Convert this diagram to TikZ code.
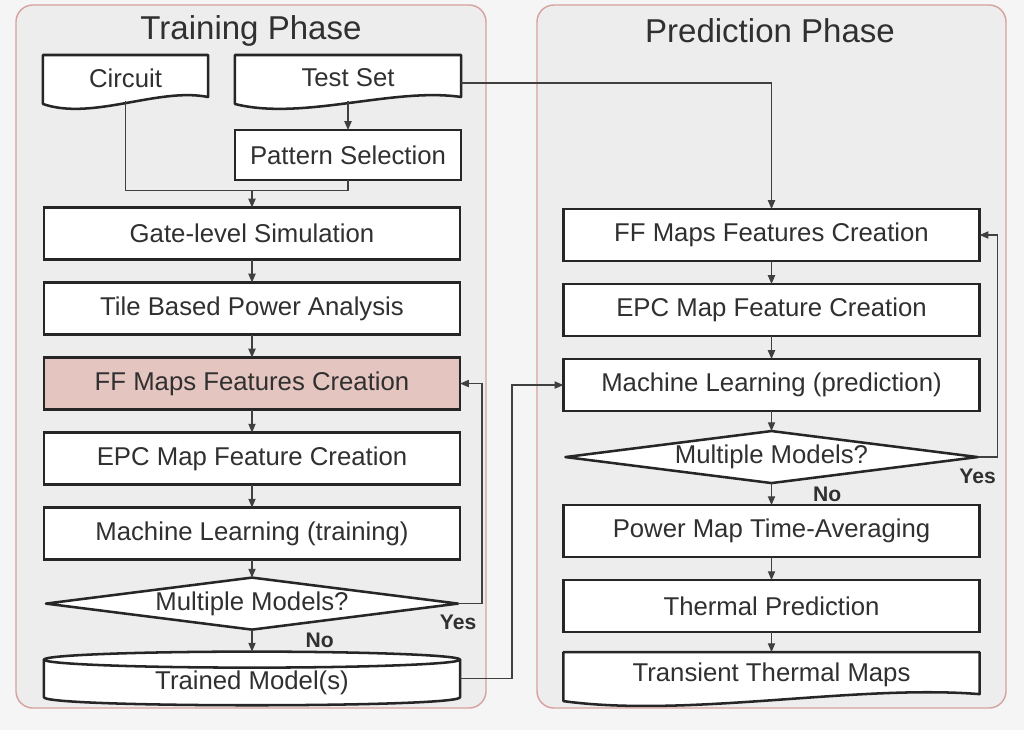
\documentclass[tikz,border=0pt]{standalone}
\usepackage{fontspec}
\setmainfont{Liberation Sans}
\usetikzlibrary{shapes.geometric, arrows.meta, positioning, backgrounds, calc}
\definecolor{ffpink}{RGB}{229,197,191}
\definecolor{panelred}{RGB}{214,162,158}
\definecolor{txtgray}{RGB}{48,48,48}

\begin{document}
\begin{tikzpicture}[x=0.025cm, y=-0.025cm,
    stepbox/.style={rectangle, draw=black!85, line width=1.8pt, fill=white,
        outer sep=0pt, minimum width=10.4cm, minimum height=1.3cm,
        text=txtgray, font=\fontsize{18.3}{21}\selectfont},
    docbox/.style={rectangle, outer sep=0pt, minimum height=1.15cm,
        text=txtgray, font=\fontsize{18.3}{21}\selectfont},
    decbox/.style={diamond, draw=black!85, line width=1.8pt, fill=white,
        line join=round, aspect=8, inner sep=0pt, outer sep=0pt,
        minimum width=10.3cm, minimum height=1.3cm, text=txtgray,
        font=\fontsize{18.3}{21}\selectfont},
    dbbox/.style={rectangle, outer sep=0pt, minimum width=10.4cm,
        minimum height=1.14cm, text=txtgray,
        font=\fontsize{18.3}{21}\selectfont},
    phase/.style={text=txtgray, font=\fontsize{23.5}{27}\selectfont},
    yesno/.style={text=txtgray, inner sep=1pt,
        font=\bfseries\fontsize{15}{17}\selectfont},
    panel/.style={draw=panelred, line width=1pt, fill=black!7,
        rounded corners=12pt},
    shapeline/.style={draw=black!85, line width=1.8pt, fill=white,
        line join=round},
    line/.style={draw=black!75, line width=0.9pt},
    arrow/.style={line, -{Triangle[length=0.22cm, width=0.18cm]}}
]
\useasboundingbox (0,0) rectangle (1024,730);
% the two phases
\begin{scope}[on background layer]
    \fill[black!4] (0,0) rectangle (1024,730);
    \draw[panel] (16,5) rectangle (486,708);
    \draw[panel] (537,5) rectangle (1006,708);
\end{scope}
\node[phase] (ttrain) at (251,31) {Training Phase};
\node[phase] (tpred)  at (770,31) {Prediction Phase};
% training inputs
\node[docbox, minimum width=4.125cm] (circuit) at (125.5,78) {Circuit};
\node[docbox, minimum width=5.65cm]  (testset) at (348,78) {Test Set};
\node[stepbox, minimum width=5.65cm, minimum height=1.25cm,
      below=0.725cm of testset] (pattern) {Pattern Selection};
% training flow
\node[stepbox] (gate) at (252,233.5) {Gate-level Simulation};
\node[stepbox, below=0.575cm of gate] (tile) {Tile Based Power Analysis};
\node[stepbox, fill=ffpink, below=0.575cm of tile] (fft)
    {FF Maps Features Creation};
\node[stepbox, below=0.575cm of fft]  (epct) {EPC Map Feature Creation};
\node[stepbox, below=0.575cm of epct] (mlt) {Machine Learning (training)};
\node[decbox, below=0.45cm of mlt]    (dect) {Multiple Models?};
\node[dbbox, below=0.75cm of dect]    (model) {Trained Model(s)};
% prediction flow
\node[stepbox] (ffp) at (771.5,235) {FF Maps Features Creation};
\node[stepbox, below=0.575cm of ffp]  (epcp) {EPC Map Feature Creation};
\node[stepbox, below=0.575cm of epcp] (mlp)
    {Machine Learning (prediction)};
\node[decbox, below=0.5cm of mlp]     (decp) {Multiple Models?};
\node[stepbox, below=0.55cm of decp]  (avg) {Power Map Time-Averaging};
\node[stepbox, below=0.575cm of avg]  (therm) {Thermal Prediction};
\node[docbox, minimum width=10.4cm, below=0.5cm of therm] (maps)
    {Transient Thermal Maps};
% document and storage outlines
\begin{scope}[on background layer]
    \draw[shapeline] ($(circuit.south west)+(0,3)$) -- (circuit.north west)
        -- (circuit.north east) -- ($(circuit.south east)+(0,-4)$)
        .. controls ($(circuit.south west)!0.7!(circuit.south east)+(0,-14)$)
        and ($(circuit.south west)!0.3!(circuit.south east)+(0,20)$)
        .. ($(circuit.south west)+(0,3)$) -- cycle;
    \draw[shapeline] ($(testset.south west)+(0,3)$) -- (testset.north west)
        -- (testset.north east) -- ($(testset.south east)+(0,-4)$)
        .. controls ($(testset.south west)!0.7!(testset.south east)+(0,-14)$)
        and ($(testset.south west)!0.3!(testset.south east)+(0,20)$)
        .. ($(testset.south west)+(0,3)$) -- cycle;
    \draw[shapeline] ($(maps.south west)+(0,3)$) -- (maps.north west)
        -- (maps.north east) -- ($(maps.south east)+(0,-4)$)
        .. controls ($(maps.south west)!0.7!(maps.south east)+(0,-14)$)
        and ($(maps.south west)!0.3!(maps.south east)+(0,20)$)
        .. ($(maps.south west)+(0,3)$) -- cycle;
    \draw[shapeline] (model.north west) -- ($(model.south west)+(0,-8)$)
        .. controls ($(model.south west)+(0,2.7)$)
        and ($(model.south east)+(0,2.7)$) .. ($(model.south east)+(0,-8)$)
        -- (model.north east);
    \draw[shapeline] (model.north) ellipse [x radius=5.2cm, y radius=0.2cm];
\end{scope}
% arrows
\coordinate[above=0.425cm of gate] (join);
\draw[line]  (circuit.south) |- (join);
\draw[line]  (pattern.south) |- (join);
\draw[arrow] (join) -- (gate);
\draw[arrow] (testset) -- (pattern);
\draw[arrow] (gate) -- (tile);
\draw[arrow] (tile) -- (fft);
\draw[arrow] (fft)  -- (epct);
\draw[arrow] (epct) -- (mlt);
\draw[arrow] (mlt)  -- (dect);
\draw[arrow, shorten >=0.2cm] (dect) -- (model);
\draw[arrow] (dect.east) -- ++(24,0) |- (fft.east);
\draw[arrow] ([yshift=0.1cm]model.east) -- ++(52,0) |- (mlp.west);
\draw[arrow] ([yshift=-0.125cm]testset.east) -| (ffp.north);
\draw[arrow] (ffp)  -- (epcp);
\draw[arrow] (epcp) -- (mlp);
\draw[arrow] (mlp)  -- (decp);
\draw[arrow] (decp) -- (avg);
\draw[arrow] (avg)  -- (therm);
\draw[arrow] (therm) -- (maps);
\draw[arrow] (decp.east) -- ++(20,0) |- (ffp.east);
% branch labels
\node[yesno, below=0.25cm of dect.east] (yes1) {Yes};
\node[yesno, below right=0.05cm and 1.3cm of dect.south] (no1) {No};
\node[yesno, below=0.25cm of decp.east] (yes2) {Yes};
\node[yesno, below right=0.05cm and 1.0cm of decp.south] (no2) {No};
\end{tikzpicture}
\end{document}
